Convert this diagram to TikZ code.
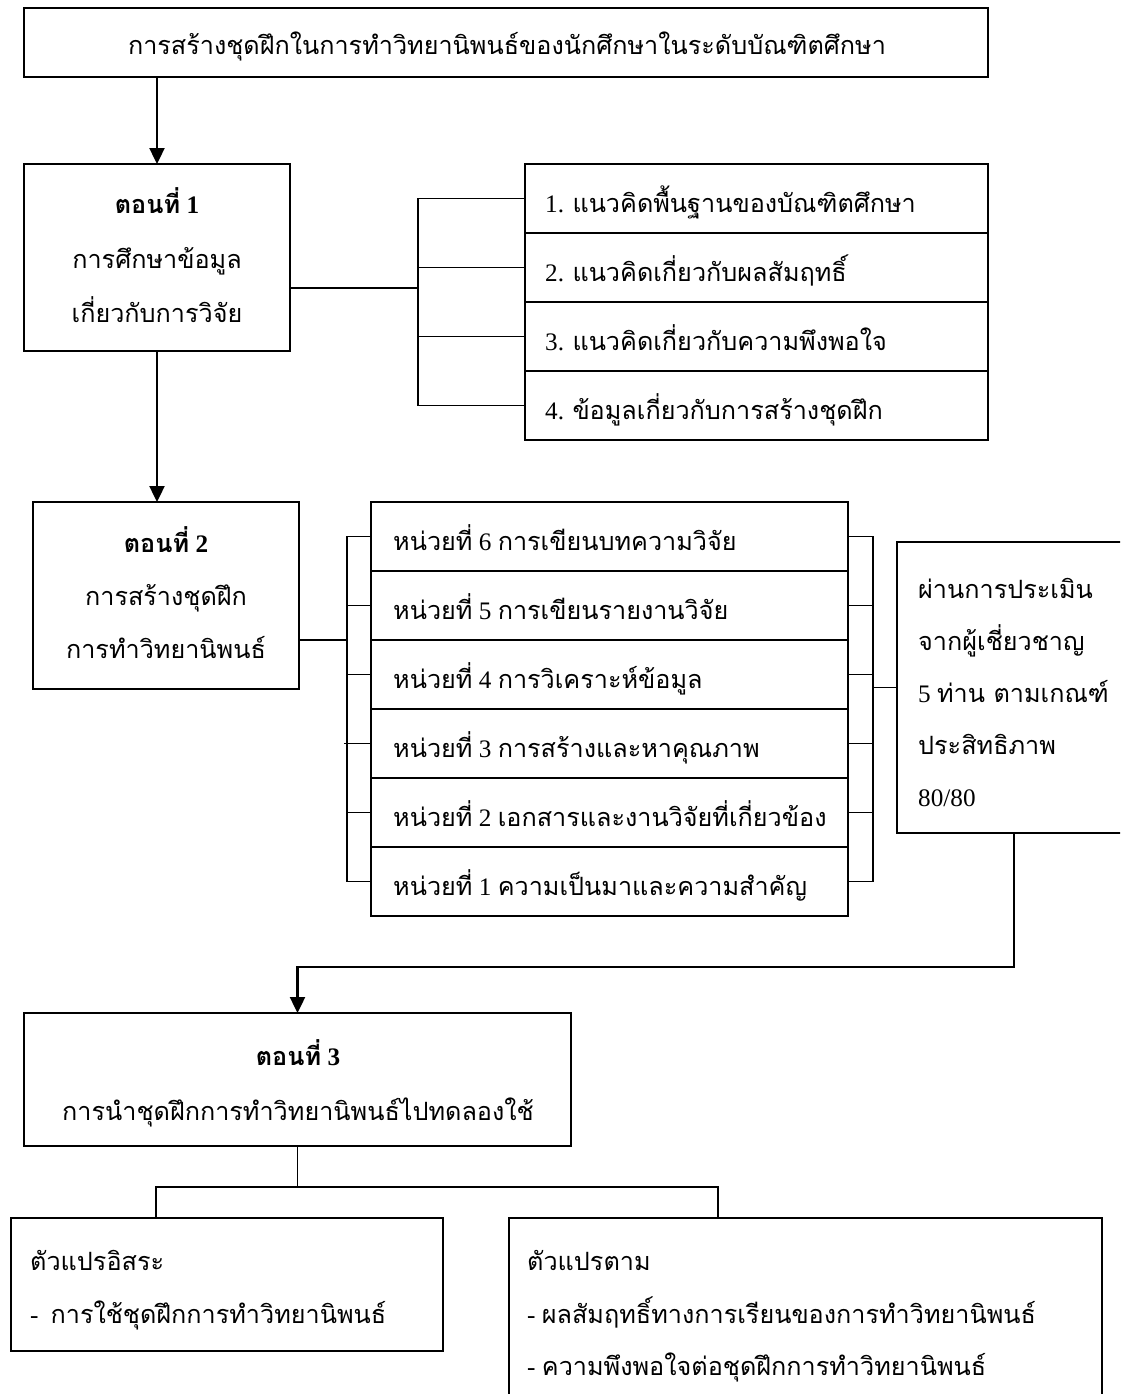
\documentclass[tikz,border=0pt]{standalone}
\usepackage{fontspec}
\setmainfont{Liberation Serif}
\newfontfamily\thf[Script=Thai]{Loma}
\usetikzlibrary{arrows.meta}
\newcommand\T[1]{{\thf #1}}
\tikzset{
  bx/.style={draw, line width=2pt, inner sep=0pt, outer sep=0pt, anchor=north west},
  ln/.style={line width=1.6pt},
  arr/.style={line width=2.4pt, -{Triangle[length=16pt,width=15pt]}},
  tc/.style={inner sep=0pt, anchor=base},
  tl/.style={inner sep=0pt, anchor=base west},
}
\newcommand\mybox[5]{\node[bx, minimum width=#4pt, minimum height=#5pt] (#1) at (#2,#3) {};}
\begin{document}
\begin{tikzpicture}[x=1pt,y=-1pt,font=\fontsize{25.2}{30}\selectfont]
\useasboundingbox (0,0) rectangle (1120,1394);
\clip (0,0) rectangle (1120,1394);
% boxes
\mybox{top}{24}{8}{964}{69}
\mybox{s1}{24}{164}{266}{187}
\mybox{a1}{525}{164}{463}{69}
\mybox{a2}{525}{233}{463}{69}
\mybox{a3}{525}{302}{463}{69}
\mybox{a4}{525}{371}{463}{69}
\mybox{s2}{33}{502}{266}{187}
\mybox{u6}{371}{502}{477}{69}
\mybox{u5}{371}{571}{477}{69}
\mybox{u4}{371}{640}{477}{69}
\mybox{u3}{371}{709}{477}{69}
\mybox{u2}{371}{778}{477}{69}
\mybox{u1}{371}{847}{477}{69}
\mybox{ev}{897}{542}{234}{291}
\mybox{s3}{24}{1013}{547}{133}
\mybox{lb}{11}{1218}{432}{133}
\mybox{rb}{509}{1218}{593}{220}
% texts
\node[tc] (ttl) at (507,55) {\T{การสร้างชุดฝึกในการทำวิทยานิพนธ์ของนักศึกษาในระดับบัณฑิตศึกษา}};
\node[tc] (s1a) at (157,213) {\bfseries\T{ตอนที่} 1};
\node[tc] (s1b) at (157,268) {\T{การศึกษาข้อมูล}};
\node[tc] (s1c) at (157,322) {\T{เกี่ยวกับการวิจัย}};
\node[tl] (a1t) at (545,212) {1. \T{แนวคิดพื้นฐานของบัณฑิตศึกษา}};
\node[tl] (a2t) at (545,281) {2. \T{แนวคิดเกี่ยวกับผลสัมฤทธิ์}};
\node[tl] (a3t) at (545,350) {3. \T{แนวคิดเกี่ยวกับความพึงพอใจ}};
\node[tl] (a4t) at (545,419) {4. \T{ข้อมูลเกี่ยวกับการสร้างชุดฝึก}};
\node[tc] (s2a) at (166,552) {\bfseries\T{ตอนที่} 2};
\node[tc] (s2b) at (166,605) {\T{การสร้างชุดฝึก}};
\node[tc] (s2c) at (166,658) {\T{การทำวิทยานิพนธ์}};
\node[tl] (u6t) at (393,550) {\T{หน่วยที่} 6 \T{การเขียนบทความวิจัย}};
\node[tl] (u5t) at (393,619) {\T{หน่วยที่} 5 \T{การเขียนรายงานวิจัย}};
\node[tl] (u4t) at (393,688) {\T{หน่วยที่} 4 \T{การวิเคราะห์ข้อมูล}};
\node[tl] (u3t) at (393,757) {\T{หน่วยที่} 3 \T{การสร้างและหาคุณภาพ}};
\node[tl] (u2t) at (393,826) {\T{หน่วยที่} 2 \T{เอกสารและงานวิจัยที่เกี่ยวข้อง}};
\node[tl] (u1t) at (393,895) {\T{หน่วยที่} 1 \T{ความเป็นมาและความสำคัญ}};
\node[tl] (e1) at (918,598) {\T{ผ่านการประเมิน}};
\node[tl] (e2) at (918,650) {\T{จากผู้เชี่ยวชาญ}};
\node[tl] (e3) at (918,702) {5 \T{ท่าน ตามเกณฑ์}};
\node[tl] (e4) at (918,754) {\T{ประสิทธิภาพ}};
\node[tl] (e5) at (918,806) {80/80};
\node[tc] (s3a) at (298,1065) {\bfseries\T{ตอนที่} 3};
\node[tc] (s3b) at (298,1120) {\T{การนำชุดฝึกการทำวิทยานิพนธ์ไปทดลองใช้}};
\node[tl] (l1) at (30,1270) {\T{ตัวแปรอิสระ}};
\node[tl] (l2) at (30,1323) {-\hspace{12pt}\T{การใช้ชุดฝึกการทำวิทยานิพนธ์}};
\node[tl] (r1) at (527,1270) {\T{ตัวแปรตาม}};
\node[tl] (r2) at (527,1323) {- \T{ผลสัมฤทธิ์ทางการเรียนของการทำวิทยานิพนธ์}};
\node[tl] (r3) at (527,1375) {- \T{ความพึงพอใจต่อชุดฝึกการทำวิทยานิพนธ์}};
% connectors
\draw[arr] (top.south -| s1.north) -- (s1.north);
\draw[arr] (s1.south) -- (s1.south |- s2.north);
\coordinate (b1) at (418,288);
\draw[ln] (s1.east |- b1) -- (b1);
\draw[ln] (a1.west) -- (a1.west -| b1) -- (a4.west -| b1) -- (a4.west);
\draw[ln] (a2.west -| b1) -- (a2.west);
\draw[ln] (a3.west -| b1) -- (a3.west);
\coordinate (b2) at (347,640);
\draw[ln] (s2.east |- b2) -- (b2);
\draw[ln] (u6.west) -- (u6.west -| b2) -- (u1.west -| b2) -- (u1.west);
\draw[ln] (u5.west -| b2) -- (u5.west);
\draw[ln] (u4.west -| b2) -- (u4.west);
\draw[ln] ([xshift=-3pt]u3.west -| b2) -- (u3.west);
\draw[ln] (u2.west -| b2) -- (u2.west);
\coordinate (b3) at (873,690);
\draw[ln] (u6.east) -- (u6.east -| b3) -- (u1.east -| b3) -- (u1.east);
\draw[ln] (u5.east) -- (u5.east -| b3);
\draw[ln] (u4.east) -- (u4.east -| b3);
\draw[ln] (u3.east) -- (u3.east -| b3);
\draw[ln] (u2.east) -- (u2.east -| b3);
\draw[ln] (b3 |- ev.west) -- (ev.west);
\coordinate (j3) at (1014,967);
\draw[arr] (ev.south) -- (j3) -| (s3.north);
\coordinate (l4) at (156,1187);
\coordinate (r4) at (718,1187);
\draw[ln] (s3.south) -- (s3.south |- l4);
\draw[ln] (lb.north -| l4) -- (l4) -- (r4) -- (rb.north -| r4);
\end{tikzpicture}
\end{document}
